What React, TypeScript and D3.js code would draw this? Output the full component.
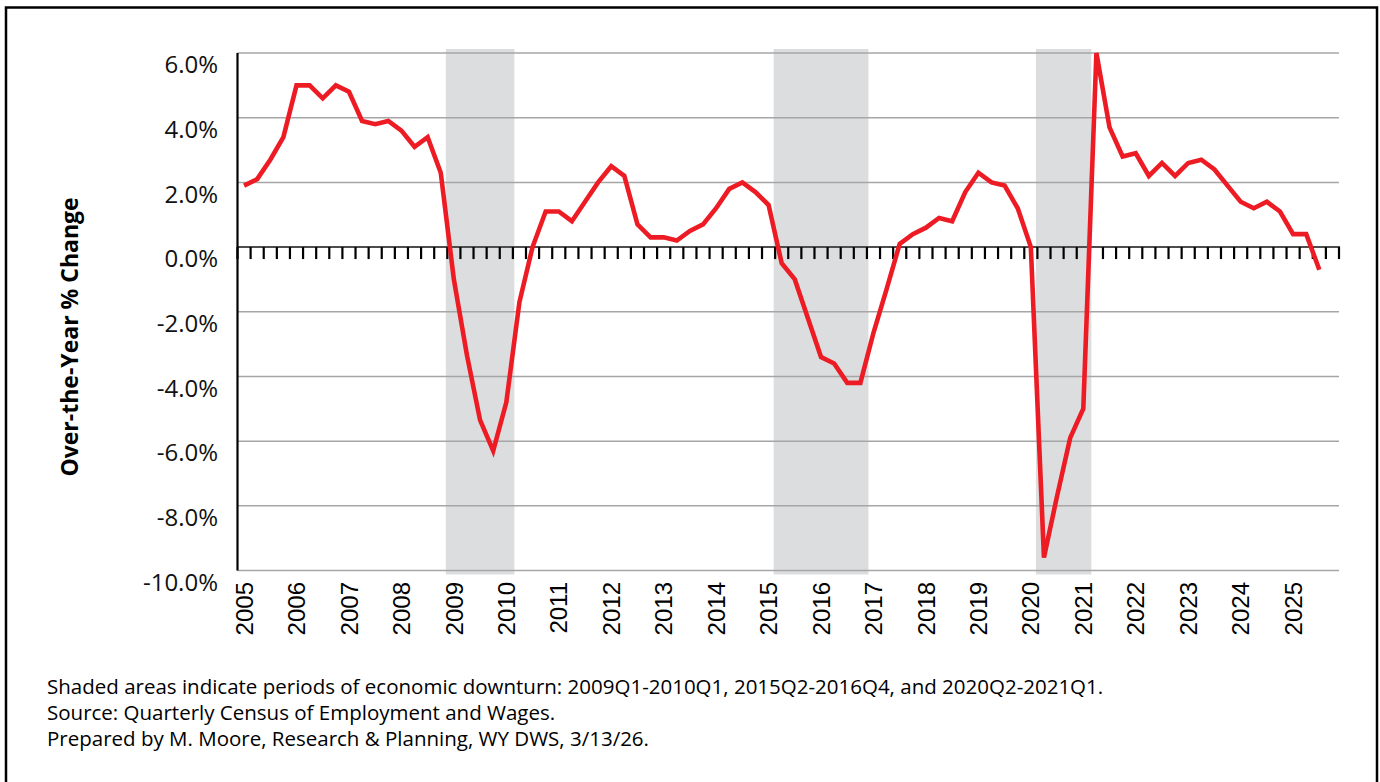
import React, { useEffect, useRef } from 'react';
import * as d3 from 'd3';

// quarterly over-the-year % change, 2005Q1 .. 2025Q3
const years = d3.range(2005, 2026);
const quarters: string[] = years.flatMap(y => [1, 2, 3, 4].map(q => `${y}Q${q}`));

const changes = [
  1.9, 2.1, 2.7, 3.4,
  5.0, 5.0, 4.6, 5.0,
  4.8, 3.9, 3.8, 3.9,
  3.6, 3.1, 3.4, 2.3,
  -1.0, -3.35, -5.35, -6.3,
  -4.8, -1.7, 0.0, 1.1,
  1.1, 0.8, 1.4, 2.0,
  2.5, 2.2, 0.7, 0.3,
  0.3, 0.2, 0.5, 0.7,
  1.2, 1.8, 2.0, 1.7,
  1.3, -0.5, -1.0, -2.2,
  -3.4, -3.6, -4.2, -4.2,
  -2.65, -1.3, 0.1, 0.4,
  0.6, 0.9, 0.8, 1.7,
  2.3, 2.0, 1.9, 1.2,
  0.0, -9.6, -7.7, -5.9,
  -5.0, 6.0, 3.7, 2.8,
  2.9, 2.2, 2.6, 2.2,
  2.6, 2.7, 2.4, 1.9,
  1.4, 1.2, 1.4, 1.1,
  0.4, 0.4, -0.7,
];

const downturns = [
  { start: '2009Q1', end: '2010Q1' },
  { start: '2015Q2', end: '2016Q4' },
  { start: '2020Q2', end: '2021Q1' },
];

const yTicks = [6, 4, 2, 0, -2, -4, -6, -8, -10];

const notes = [
  'Shaded areas indicate periods of economic downturn: 2009Q1-2010Q1, 2015Q2-2016Q4, and 2020Q2-2021Q1.',
  'Source: Quarterly Census of Employment and Wages.',
  'Prepared by M. Moore, Research & Planning, WY DWS, 3/13/26.',
];

export default function App() {
  const svgRef = useRef<SVGSVGElement>(null);

  useEffect(() => {
    if (!svgRef.current) return;
    const width = 1380;
    const height = 782;
    const left = 237.5, right = 1339, top = 53, bottom = 570.5;

    const svg = d3.select(svgRef.current);
    svg.selectAll('*').remove();
    svg.attr('width', width).attr('height', height);

    svg.append('rect')
      .attr('x', 6).attr('y', 7.5)
      .attr('width', 1371).attr('height', 820)
      .attr('fill', 'white').attr('stroke', '#000').attr('stroke-width', 2.5);

    const x = d3.scaleBand<string>().domain(quarters).range([left, right]);
    const y = d3.scaleLinear().domain([-10, 6]).range([bottom, top]);
    const bw = x.bandwidth();

    // downturn shading
    svg.append('g').selectAll('rect')
      .data(downturns)
      .join('rect')
      .attr('x', d => (x(d.start) as number) - 1.5)
      .attr('width', d => (x(d.end) as number) + bw - (x(d.start) as number) + 3)
      .attr('y', top - 4)
      .attr('height', bottom - top + 8)
      .attr('fill', '#dcdddf');

    // gridlines
    svg.append('g').selectAll('line')
      .data(yTicks.filter(t => t !== 0))
      .join('line')
      .attr('x1', left).attr('x2', right)
      .attr('y1', d => y(d)).attr('y2', d => y(d))
      .attr('stroke', '#a6a6a6').attr('stroke-width', 1.5);

    // y tick labels (sit a little below their gridlines)
    svg.append('g').selectAll('text')
      .data(yTicks)
      .join('text')
      .attr('x', 218)
      .attr('y', d => y(d) + 11.5)
      .attr('dy', '0.36em')
      .attr('text-anchor', 'end')
      .attr('font-family', '"Open Sans", sans-serif')
      .attr('font-size', 24)
      .attr('fill', '#111')
      .text(d => d.toFixed(1) + '%');

    // zero line with quarter ticks
    svg.append('line')
      .attr('x1', left).attr('x2', right + 1)
      .attr('y1', y(0)).attr('y2', y(0))
      .attr('stroke', '#4d4d4d').attr('stroke-width', 2);
    svg.append('g').selectAll('line')
      .data(d3.range(quarters.length + 1))
      .join('line')
      .attr('x1', i => left + i * bw).attr('x2', i => left + i * bw)
      .attr('y1', y(0)).attr('y2', y(0) + 12)
      .attr('stroke', '#000').attr('stroke-width', 2.2);

    // y axis
    svg.append('line')
      .attr('x1', left).attr('x2', left)
      .attr('y1', top).attr('y2', bottom)
      .attr('stroke', '#000').attr('stroke-width', 2.2);

    // year labels
    svg.append('g').selectAll('text')
      .data(years)
      .join('text')
      .attr('transform', d => `translate(${(x(`${d}Q1`) as number) + bw / 2},582) rotate(-90)`)
      .attr('dy', '0.36em')
      .attr('text-anchor', 'end')
      .attr('font-family', '"Liberation Sans", Arial, sans-serif')
      .attr('font-size', 24)
      .attr('fill', '#000')
      .text(d => d);

    // axis title
    svg.append('text')
      .attr('transform', 'translate(70,337) rotate(-90)')
      .attr('dy', '0.36em')
      .attr('text-anchor', 'middle')
      .attr('font-family', '"Open Sans", sans-serif')
      .attr('font-weight', 'bold')
      .attr('font-size', 23)
      .attr('fill', '#000')
      .text('Over-the-Year % Change');

    // series
    const line = d3.line<number>()
      .x((_, i) => (x(quarters[i]) as number) + bw / 2)
      .y(d => y(d));
    svg.append('path')
      .datum(changes)
      .attr('d', line)
      .attr('fill', 'none')
      .attr('stroke', '#ed1c24')
      .attr('stroke-width', 4.6)
      .attr('stroke-linejoin', 'miter');

    // notes
    svg.append('g').selectAll('text')
      .data(notes)
      .join('text')
      .attr('x', 47)
      .attr('y', (_, i) => 694 + i * 26)
      .attr('font-family', '"Open Sans", sans-serif')
      .attr('font-size', 20.5)
      .attr('fill', '#000')
      .text(d => d);
  }, []);

  return (
    <svg ref={svgRef} style={{ position: 'absolute', left: 0, top: 0, display: 'block' }}></svg>
  );
}
